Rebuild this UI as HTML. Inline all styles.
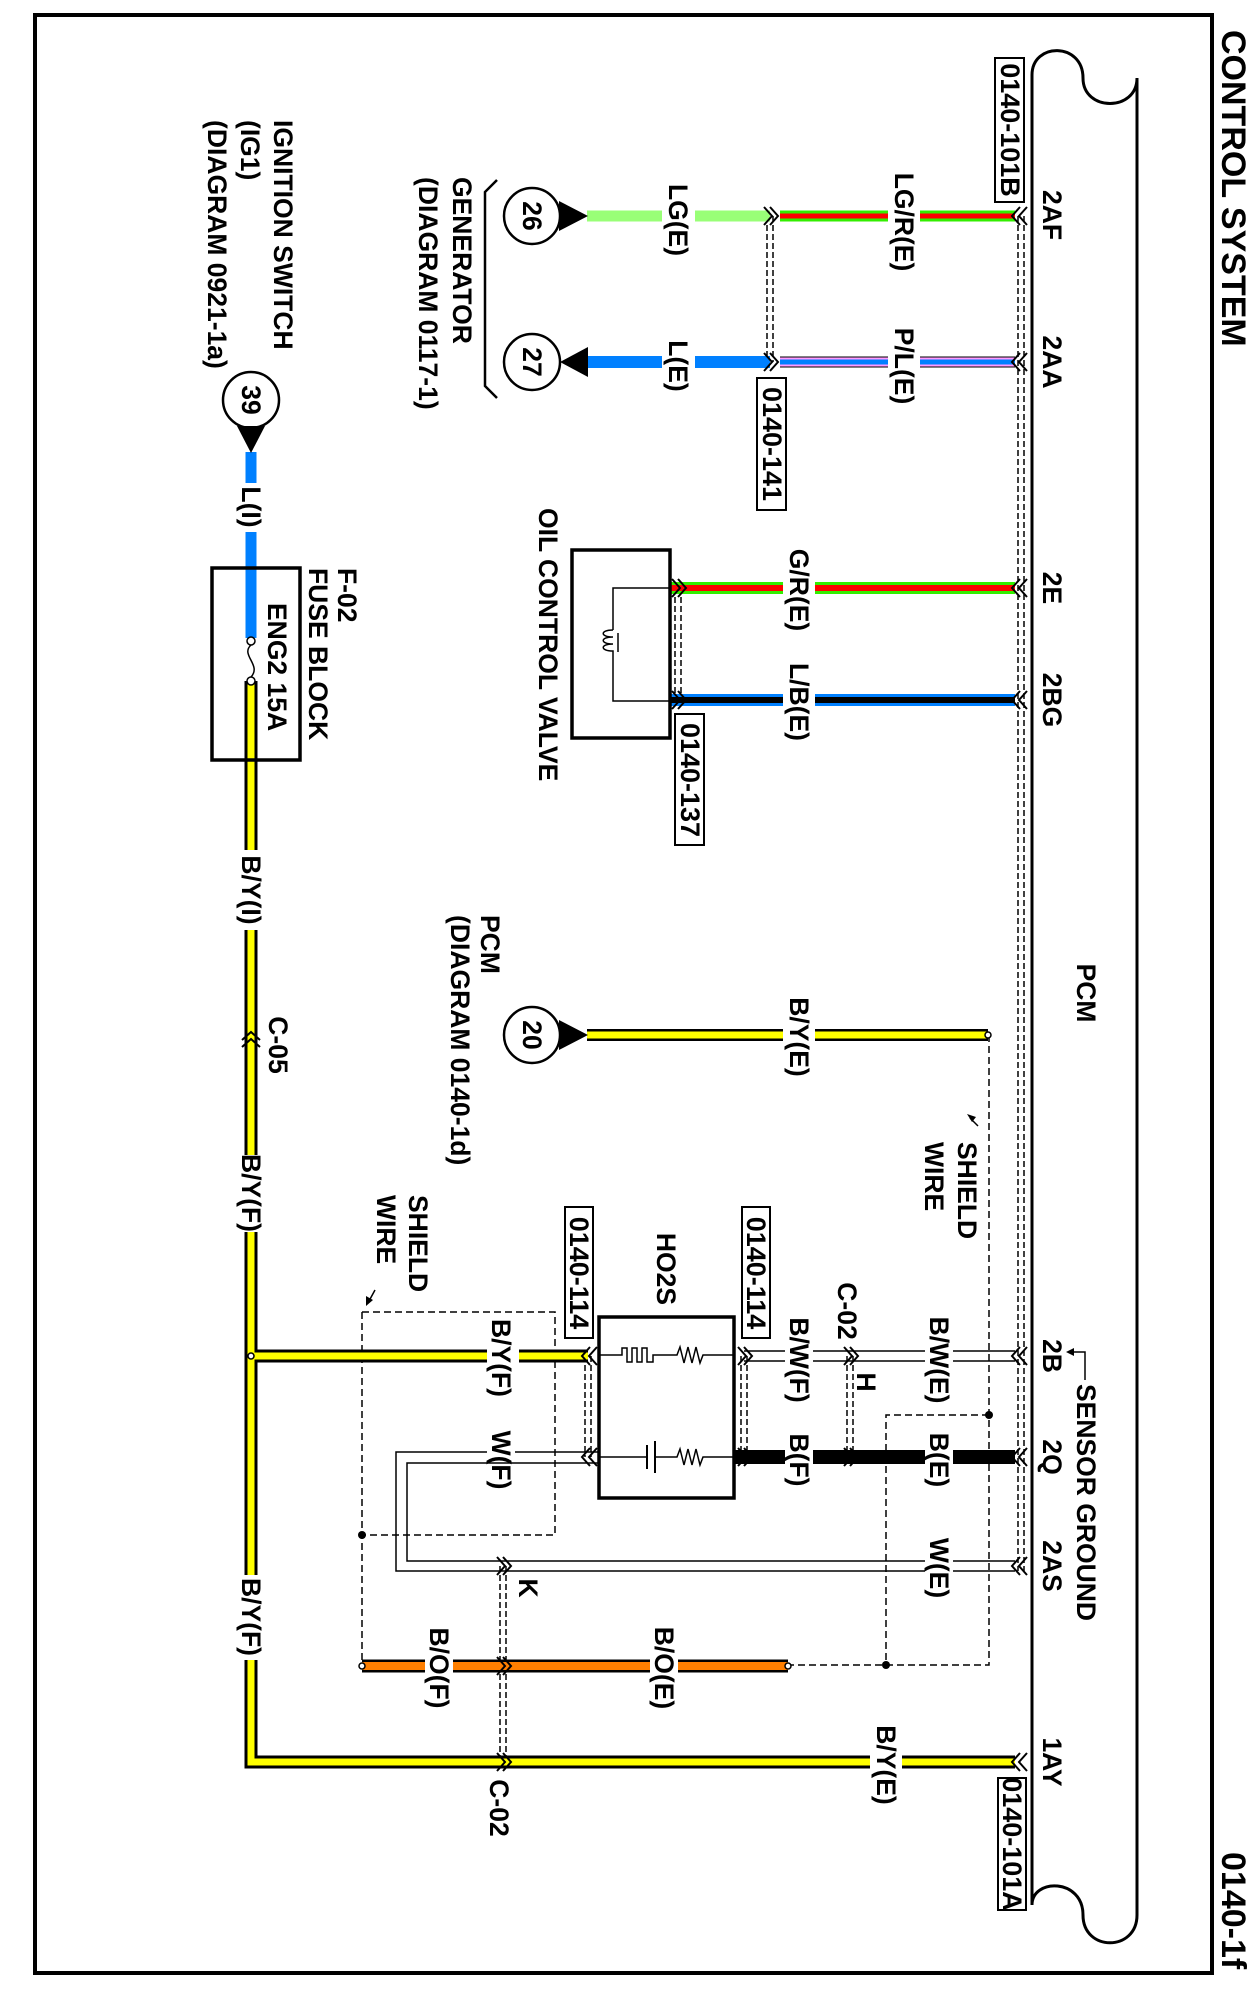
<!DOCTYPE html>
<html><head><meta charset="utf-8"><style>
html,body{margin:0;padding:0;background:#fff;}
svg{display:block;}
text{font-family:"Liberation Sans",Arial,sans-serif;font-weight:bold;font-size:26.5px;fill:#000;}
</style></head><body>
<svg width="1256" height="1998" viewBox="0 0 1256 1998" xmlns="http://www.w3.org/2000/svg">
<rect x="35" y="15" width="1177" height="1958" fill="none" stroke="#000" stroke-width="4"/>
<path d="M1032,1905 L1032,75 C1032,42 1083,42 1083,78 C1083,112 1137,112 1137,78 L1137,1915 C1137,1952 1083,1952 1083,1915 C1083,1878 1032,1878 1032,1905" fill="none" stroke="#000" stroke-width="3"/>

<g stroke="#000" stroke-width="1.5" stroke-dasharray="6,3" fill="none">
<line x1="1018" y1="216" x2="1018" y2="1571"/><line x1="1024" y1="216" x2="1024" y2="1571"/>
<line x1="767" y1="216" x2="767" y2="362"/><line x1="773" y1="216" x2="773" y2="362"/>
<line x1="675" y1="588" x2="675" y2="700"/><line x1="681" y1="588" x2="681" y2="700"/>
<line x1="585" y1="1356" x2="585" y2="1457"/><line x1="591" y1="1356" x2="591" y2="1457"/>
<line x1="741" y1="1356" x2="741" y2="1457"/><line x1="747" y1="1356" x2="747" y2="1457"/>
<line x1="847" y1="1356" x2="847" y2="1457"/><line x1="853" y1="1356" x2="853" y2="1457"/>
<line x1="500" y1="1566" x2="500" y2="1762"/><line x1="506" y1="1566" x2="506" y2="1762"/>
</g>
<g stroke="#000" stroke-width="1.5" stroke-dasharray="7,4" fill="none">
<path d="M989,1035 L989,1665 L788,1665"/>
<path d="M989,1415 L886,1415 L886,1665"/>
<path d="M362,1312 L555,1312 L555,1535 L362,1535"/>
<path d="M362,1312 L362,1666"/>
</g>
<circle cx="989" cy="1415" r="4" fill="#000"/>
<circle cx="886" cy="1665" r="4" fill="#000"/>
<circle cx="362" cy="1535" r="4" fill="#000"/>

<g fill="none" stroke-linecap="butt">
<path d="M587,216 H662 M695,216 H770" stroke="#99ff77" stroke-width="11"/>
<path d="M780,216 H888 M920,216 H1015" stroke="#33ee00" stroke-width="11"/>
<path d="M780,216 H888 M920,216 H1015" stroke="#ff0000" stroke-width="5"/>
<path d="M587,362 H662 M695,362 H770" stroke="#0080ff" stroke-width="12"/>
<path d="M780,362 H888 M920,362 H1015" stroke="#000" stroke-width="11"/>
<path d="M780,362 H888 M920,362 H1015" stroke="#ff99ff" stroke-width="9"/>
<path d="M780,362 H888 M920,362 H1015" stroke="#0080ff" stroke-width="5"/>
<path d="M670,588 H783 M815,588 H1015" stroke="#33ee00" stroke-width="12"/>
<path d="M670,588 H783 M815,588 H1015" stroke="#ff0000" stroke-width="6"/>
<path d="M670,700 H783 M815,700 H1015" stroke="#0080ff" stroke-width="12"/>
<path d="M670,700 H783 M815,700 H1015" stroke="#000" stroke-width="6"/>
<path d="M587,1035 H783 M815,1035 H988" stroke="#000" stroke-width="12"/>
<path d="M587,1035 H783 M815,1035 H988" stroke="#ffff00" stroke-width="7"/>
<path d="M251,681 V850 M251,930 V1155 M251,1232 V1575 M251,1660 V1762 H870 M902,1762 H1015 M251,1356 H487 M519,1356 H588" stroke="#000" stroke-width="13"/>
<path d="M251,681 V850 M251,930 V1155 M251,1232 V1575 M251,1660 V1762 H870 M902,1762 H1015 M251,1356 H487 M519,1356 H588" stroke="#ffff00" stroke-width="7"/>
<path d="M251,452 V483 M251,532 V638" stroke="#0080ff" stroke-width="11"/>
<path d="M744,1351 H785 M813,1351 H925 M953,1351 H1015 M744,1361 H785 M813,1361 H925 M953,1361 H1015" stroke="#000" stroke-width="1.5"/>
<path d="M734,1457 H785 M813,1457 H925 M953,1457 H1015" stroke="#000" stroke-width="14"/>
<path d="M1015,1561 H953 M925,1561 H407 V1463 H515 M487,1463 H599" stroke="#000" stroke-width="1.5"/>
<path d="M1015,1571 H953 M925,1571 H396 V1452 H487 M515,1452 H599" stroke="#000" stroke-width="1.5"/>
<path d="M362,1666 H425 M453,1666 H650 M678,1666 H788" stroke="#000" stroke-width="13"/>
<path d="M362,1666 H425 M453,1666 H650 M678,1666 H788" stroke="#ff7f00" stroke-width="8"/>
</g>
<circle cx="362" cy="1666" r="3" fill="#fff" stroke="#000" stroke-width="1.5"/>
<circle cx="788" cy="1666" r="3" fill="#fff" stroke="#000" stroke-width="1.5"/>
<circle cx="988" cy="1035" r="3" fill="#fff" stroke="#000" stroke-width="1.5"/>
<circle cx="251" cy="1356" r="3" fill="#fff" stroke="#000" stroke-width="1.5"/>

<g fill="none" stroke="#000" stroke-width="2">
<path d="M1020,207 L1012,216 L1020,225 M1027,207 L1019,216 L1027,225"/>
<path d="M1020,353 L1012,362 L1020,371 M1027,353 L1019,362 L1027,371"/>
<path d="M1020,579 L1012,588 L1020,597 M1027,579 L1019,588 L1027,597"/>
<path d="M1020,691 L1012,700 L1020,709 M1027,691 L1019,700 L1027,709"/>
<path d="M1020,1347 L1012,1356 L1020,1365 M1027,1347 L1019,1356 L1027,1365"/>
<path d="M1020,1448 L1012,1457 L1020,1466 M1027,1448 L1019,1457 L1027,1466"/>
<path d="M1020,1557 L1012,1566 L1020,1575 M1027,1557 L1019,1566 L1027,1575"/>
<path d="M1020,1753 L1012,1762 L1020,1771 M1027,1753 L1019,1762 L1027,1771"/>
<path d="M764,207 L772,216 L764,225 M770,207 L778,216 L770,225"/>
<path d="M764,353 L772,362 L764,371 M770,353 L778,362 L770,371"/>
<path d="M672,579 L680,588 L672,597 M678,579 L686,588 L678,597"/>
<path d="M672,691 L680,700 L672,709 M678,691 L686,700 L678,709"/>
<path d="M738,1347 L746,1356 L738,1365 M744,1347 L752,1356 L744,1365"/>
<path d="M738,1448 L746,1457 L738,1466 M744,1448 L752,1457 L744,1466"/>
<path d="M844,1347 L852,1356 L844,1365 M850,1347 L858,1356 L850,1365"/>
<path d="M844,1448 L852,1457 L844,1466 M850,1448 L858,1457 L850,1466"/>
<path d="M497,1557 L505,1566 L497,1575 M503,1557 L511,1566 L503,1575"/>
<path d="M497,1657 L505,1666 L497,1675 M503,1657 L511,1666 L503,1675"/>
<path d="M497,1753 L505,1762 L497,1771 M503,1753 L511,1762 L503,1771"/>
<path d="M590,1347 L582,1356 L590,1365 M597,1347 L589,1356 L597,1365"/>
<path d="M590,1448 L582,1457 L590,1466 M597,1448 L589,1457 L597,1466"/>
<path d="M242,1040 L251,1032 L260,1040 M242,1047 L251,1039 L260,1047"/>
</g>

<g fill="#fff" stroke="#000" stroke-width="2.5">
<circle cx="532" cy="216" r="28"/><circle cx="532" cy="362" r="28"/>
<circle cx="251" cy="400" r="28"/><circle cx="532" cy="1035" r="28"/>
</g>
<polygon points="559,201 559,231 588,216" fill="#000"/>
<polygon points="560,362 588,347 588,377" fill="#000"/>
<polygon points="237,426 265,426 251,453" fill="#000"/>
<polygon points="559,1020 559,1050 588,1035" fill="#000"/>
<path d="M497,180 L485,192 L485,386 L497,398" fill="none" stroke="#000" stroke-width="2.5"/>

<rect x="212" y="568" width="88" height="192" fill="none" stroke="#000" stroke-width="3.5"/>
<circle cx="251" cy="641" r="4" fill="#fff" stroke="#000" stroke-width="1.5"/>
<circle cx="251" cy="681" r="4" fill="#fff" stroke="#000" stroke-width="1.5"/>
<path d="M251,645 C240,655 262,665 251,677" fill="none" stroke="#000" stroke-width="1.5"/>

<rect x="572" y="550" width="98" height="188" fill="none" stroke="#000" stroke-width="3.5"/>
<path d="M670,588 H613 V630 M613,655 V701 H670" fill="none" stroke="#000" stroke-width="1.5"/>
<path d="M613,630 C600,630 600,637 613,637 C600,637 600,644 613,644 C600,644 600,651 613,651 L613,655" fill="none" stroke="#000" stroke-width="1.5"/>
<line x1="618" y1="633" x2="618" y2="652" stroke="#000" stroke-width="1.5"/>

<rect x="599" y="1317" width="135" height="181" fill="none" stroke="#000" stroke-width="3.5"/>
<path d="M599,1355 H622 V1348 H627 V1362 H632 V1348 H637 V1362 H642 V1348 H647 V1362 H653 V1355 H677 L680,1347 L684,1363 L688,1347 L692,1363 L696,1347 L700,1363 L703,1355 H734" fill="none" stroke="#000" stroke-width="1.5"/>
<path d="M599,1457 H647 M655,1457 H677 L680,1449 L684,1465 L688,1449 L692,1465 L696,1449 L700,1465 L703,1457 H734" fill="none" stroke="#000" stroke-width="1.5"/>
<line x1="647" y1="1445" x2="647" y2="1469" stroke="#000" stroke-width="2"/>
<line x1="655" y1="1441" x2="655" y2="1473" stroke="#000" stroke-width="2"/>

<g fill="#fff" stroke="#000" stroke-width="2">
<rect x="995" y="58" width="29" height="144"/>
<rect x="757" y="378" width="29" height="132"/>
<rect x="675" y="714" width="29" height="131"/>
<rect x="565" y="1207" width="28" height="131"/>
<rect x="742" y="1207" width="28" height="131"/>
<rect x="998" y="1778" width="28" height="132"/>
</g>

<path d="M1085,1380 V1352 H1072" fill="none" stroke="#000" stroke-width="1.5"/>
<polygon points="1066,1352 1074,1348 1074,1356" fill="#000"/>
<path d="M375,1290 L369,1301" stroke="#000" stroke-width="1.5"/>
<polygon points="366,1306 366,1296 373,1300" fill="#000"/>
<path d="M970,1118 L978,1126" stroke="#000" stroke-width="1.5"/>
<polygon points="967,1114 976,1117 972,1122" fill="#000"/>

<g>
<text transform="translate(1233,30) rotate(90)" dominant-baseline="central" style="font-size:34px">CONTROL SYSTEM</text>
<text transform="translate(1233,1852) rotate(90)" dominant-baseline="central" style="font-size:34px">0140-1f</text>

<text transform="translate(283,120) rotate(90)" dominant-baseline="central">IGNITION SWITCH</text>
<text transform="translate(250,120) rotate(90)" dominant-baseline="central">(IG1)</text>
<text transform="translate(217,120) rotate(90)" dominant-baseline="central">(DIAGRAM 0921-1a)</text>
<text transform="translate(462,177) rotate(90)" dominant-baseline="central">GENERATOR</text>
<text transform="translate(428,177) rotate(90)" dominant-baseline="central">(DIAGRAM 0117-1)</text>
<text transform="translate(548,508) rotate(90)" dominant-baseline="central">OIL CONTROL VALVE</text>
<text transform="translate(347,568) rotate(90)" dominant-baseline="central">F-02</text>
<text transform="translate(318,568) rotate(90)" dominant-baseline="central">FUSE BLOCK</text>
<text transform="translate(277,603) rotate(90)" dominant-baseline="central">ENG2 15A</text>
<text transform="translate(490,915) rotate(90)" dominant-baseline="central">PCM</text>
<text transform="translate(460,915) rotate(90)" dominant-baseline="central">(DIAGRAM 0140-1d)</text>
<text transform="translate(1086,993) rotate(90)" dominant-baseline="central" text-anchor="middle">PCM</text>
<text transform="translate(666,1269) rotate(90)" dominant-baseline="central" text-anchor="middle">HO2S</text>
<text transform="translate(418,1195) rotate(90)" dominant-baseline="central">SHIELD</text>
<text transform="translate(386,1195) rotate(90)" dominant-baseline="central">WIRE</text>
<text transform="translate(967,1142) rotate(90)" dominant-baseline="central">SHIELD</text>
<text transform="translate(934,1142) rotate(90)" dominant-baseline="central">WIRE</text>
<text transform="translate(1086,1384) rotate(90)" dominant-baseline="central">SENSOR GROUND</text>

<g text-anchor="middle" dominant-baseline="central">
<text transform="translate(1052,215) rotate(90)">2AF</text>
<text transform="translate(1052,362) rotate(90)">2AA</text>
<text transform="translate(1052,588) rotate(90)">2E</text>
<text transform="translate(1052,700) rotate(90)">2BG</text>
<text transform="translate(1052,1356) rotate(90)">2B</text>
<text transform="translate(1052,1457) rotate(90)">2Q</text>
<text transform="translate(1052,1566) rotate(90)">2AS</text>
<text transform="translate(1052,1762) rotate(90)">1AY</text>
<text transform="translate(532,216) rotate(90)">26</text>
<text transform="translate(532,362) rotate(90)">27</text>
<text transform="translate(251,400) rotate(90)">39</text>
<text transform="translate(532,1035) rotate(90)">20</text>
<text transform="translate(678,220) rotate(90)">LG(E)</text>
<text transform="translate(904,222) rotate(90)">LG/R(E)</text>
<text transform="translate(678,366) rotate(90)">L(E)</text>
<text transform="translate(904,366) rotate(90)">P/L(E)</text>
<text transform="translate(799,590) rotate(90)">G/R(E)</text>
<text transform="translate(799,702) rotate(90)">L/B(E)</text>
<text transform="translate(799,1037) rotate(90)">B/Y(E)</text>
<text transform="translate(799,1360) rotate(90)">B/W(F)</text>
<text transform="translate(939,1360) rotate(90)">B/W(E)</text>
<text transform="translate(799,1460) rotate(90)">B(F)</text>
<text transform="translate(939,1460) rotate(90)">B(E)</text>
<text transform="translate(501,1460) rotate(90)">W(F)</text>
<text transform="translate(939,1568) rotate(90)">W(E)</text>
<text transform="translate(501,1358) rotate(90)">B/Y(F)</text>
<text transform="translate(439,1668) rotate(90)">B/O(F)</text>
<text transform="translate(664,1668) rotate(90)">B/O(E)</text>
<text transform="translate(886,1765) rotate(90)">B/Y(E)</text>
<text transform="translate(251,507) rotate(90)">L(I)</text>
<text transform="translate(251,890) rotate(90)">B/Y(I)</text>
<text transform="translate(251,1193) rotate(90)">B/Y(F)</text>
<text transform="translate(251,1617) rotate(90)">B/Y(F)</text>
<text transform="translate(278,1045) rotate(90)">C-05</text>
<text transform="translate(847,1311) rotate(90)">C-02</text>
<text transform="translate(866,1382) rotate(90)">H</text>
<text transform="translate(528,1588) rotate(90)">K</text>
<text transform="translate(499,1808) rotate(90)">C-02</text>
<text transform="translate(1010,130) rotate(90)" style="font-size:27px">0140-101B</text>
<text transform="translate(772,444) rotate(90)" style="font-size:27px">0140-141</text>
<text transform="translate(690,780) rotate(90)" style="font-size:27px">0140-137</text>
<text transform="translate(579,1273) rotate(90)" style="font-size:27px">0140-114</text>
<text transform="translate(756,1273) rotate(90)" style="font-size:27px">0140-114</text>
<text transform="translate(1012,1844) rotate(90)" style="font-size:27px">0140-101A</text>
</g>
</g>
</svg>
</body></html>
